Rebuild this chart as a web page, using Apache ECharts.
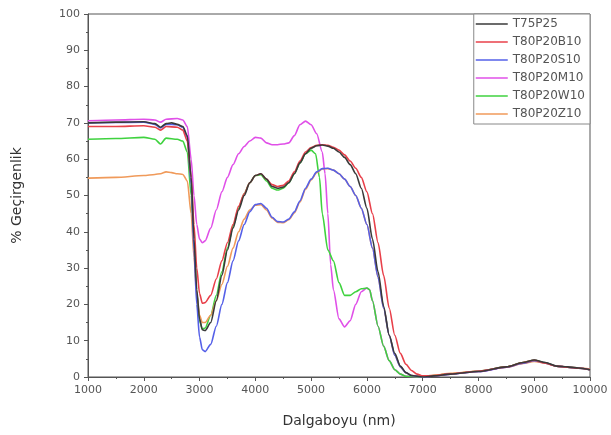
<!DOCTYPE html>
<html>
<head>
<meta charset="utf-8">
<script src="https://cdn.jsdelivr.net/npm/echarts@6/dist/echarts.min.js"></script>
<style>
html,body{margin:0;padding:0;background:#fff;}
#c{width:611px;height:435px;}
</style>
</head>
<body>
<div id="c"></div>
<script>
// Series names
const seriesNames = ['T75P25','T80P20B10','T80P20S10','T80P20M10','T80P20W10','T80P20Z10'];

// [wavelength nm, transmittance %]
const t75p25 = [[1000,70],[1500,70.2],[2000,70.3],[2200,69.8],[2300,68.8],[2400,69.8],[2500,70],[2600,69.6],[2700,69],[2780,66.5],[2850,55],[2900,38],[2950,24],[3000,16],[3050,13],[3100,12.8],[3200,15],[3300,21],[3400,28],[3500,35],[3600,41],[3700,46],[3800,50],[3900,53.5],[4000,55.5],[4100,56],[4200,54.5],[4300,52.5],[4400,52],[4500,52.3],[4600,53.5],[4700,56],[4800,59],[4900,61.5],[5000,63],[5100,63.7],[5200,63.9],[5300,63.6],[5400,63],[5500,62],[5600,60.5],[5700,58.5],[5800,56],[5900,52],[6000,46.5],[6100,38],[6200,29],[6300,19.5],[6400,11.5],[6500,6.5],[6600,3],[6700,1.2],[6800,0.4],[7000,0],[7200,0.3],[7500,0.8],[8000,1.5],[8500,2.8],[8800,4],[9000,4.7],[9200,4],[9400,3],[9600,2.8],[9800,2.5],[10000,2]];
const t80p20b10 = [[1000,69],[1500,69],[2000,69.2],[2200,68.8],[2300,68],[2400,69],[2600,68.8],[2700,68],[2780,65],[2850,55],[2900,42],[2950,30],[3000,23],[3050,20.3],[3100,20.5],[3200,22.5],[3300,27],[3400,32],[3500,37],[3600,42],[3700,47],[3800,50.5],[3900,53.5],[4000,55.5],[4100,56],[4200,54.5],[4300,53],[4400,52.5],[4500,52.8],[4600,54],[4700,56.5],[4800,59.5],[4900,62],[5000,63.2],[5100,63.8],[5200,64],[5300,63.8],[5400,63.3],[5500,62.5],[5600,61.2],[5700,59.5],[5800,57.5],[5900,55],[6000,51],[6100,45],[6200,37],[6300,28],[6400,19],[6500,11.5],[6600,6.5],[6700,3.5],[6800,1.8],[6900,0.8],[7000,0.3],[7200,0.4],[7500,0.9],[8000,1.6],[8500,2.8],[8800,4],[9000,4.6],[9200,3.8],[9400,3],[9600,2.7],[9800,2.4],[10000,2]];
const t80p20s10 = [[1000,70],[1500,70.1],[2000,70.2],[2200,69.6],[2300,68.6],[2400,69.6],[2600,69.5],[2700,68.8],[2780,66],[2850,53],[2900,35],[2950,20],[3000,11],[3050,7.5],[3100,7],[3200,9],[3300,14],[3400,20],[3500,26],[3600,32],[3700,37.5],[3800,42],[3900,45.5],[4000,47.5],[4100,47.8],[4200,46.5],[4300,44],[4400,42.8],[4500,42.7],[4600,43.5],[4700,45.5],[4800,48.5],[4900,52],[5000,54.5],[5100,56.5],[5200,57.4],[5300,57.5],[5400,57],[5500,56],[5600,54.5],[5700,52.5],[5800,50],[5900,46.5],[6000,42],[6100,35.5],[6200,27.5],[6300,19],[6400,11.5],[6500,6],[6600,2.8],[6700,1.2],[6800,0.4],[7000,0],[7200,0.3],[7500,0.8],[8000,1.5],[8500,2.7],[8800,3.8],[9000,4.5],[9200,3.9],[9400,3],[9600,2.7],[9800,2.4],[10000,2]];
const t80p20m10 = [[1000,70.6],[1500,70.8],[2000,71],[2200,70.8],[2300,70.2],[2400,71],[2600,71.2],[2700,70.8],[2780,69],[2850,60],[2900,50],[2950,42],[3000,38],[3050,37],[3100,37.5],[3200,41],[3300,46],[3400,51],[3500,55],[3600,58.5],[3700,61.5],[3800,63.5],[3900,65],[4000,66],[4100,65.8],[4200,64.5],[4300,64],[4400,64],[4500,64.2],[4600,64.5],[4700,66.5],[4800,69.5],[4900,70.5],[5000,69.5],[5100,67],[5200,62],[5250,56],[5300,45],[5350,31],[5400,24],[5500,16],[5600,13.8],[5700,15.5],[5800,20],[5900,23.5],[6000,24.5],[6050,24],[6100,21],[6200,14],[6300,8.5],[6400,4.5],[6500,2],[6600,0.8],[6700,0.2],[7000,0],[7200,0.3],[7500,0.8],[8000,1.5],[8500,2.7],[8800,3.8],[9000,4.5],[9200,3.8],[9400,3],[9600,2.7],[9800,2.4],[10000,2]];
const t80p20w10 = [[1000,65.5],[1500,65.7],[2000,66],[2200,65.5],[2300,64.2],[2400,65.8],[2600,65.5],[2700,65],[2780,62],[2850,50],[2900,36],[2950,23],[3000,15.5],[3050,13.2],[3100,13.5],[3200,17],[3300,22.5],[3400,29],[3500,35.5],[3600,41.5],[3700,46.5],[3800,50.5],[3900,53.5],[4000,55.5],[4100,55.7],[4200,54],[4300,52],[4400,51.5],[4500,52],[4600,53.5],[4700,56],[4800,59],[4900,61.5],[5000,62.5],[5080,61.5],[5150,55],[5200,45],[5300,35],[5400,32],[5500,26],[5600,22.5],[5700,22.5],[5800,23.5],[5900,24.3],[6000,24.5],[6050,24],[6100,21],[6200,14],[6300,8.5],[6400,4.5],[6500,2],[6600,0.8],[6700,0.2],[7000,0],[7200,0.4],[7500,0.9],[8000,1.6],[8500,2.8],[8800,4],[9000,4.6],[9200,3.9],[9400,3],[9600,2.7],[9800,2.4],[10000,2]];
const t80p20z10 = [[1000,54.8],[1500,55],[2000,55.5],[2200,55.8],[2300,56],[2400,56.5],[2500,56.3],[2600,56],[2700,55.8],[2780,54],[2850,45],[2900,33],[2950,23],[3000,17],[3050,15],[3100,15],[3200,17],[3300,21],[3400,25.5],[3500,30.5],[3600,35.5],[3700,40],[3800,43.5],[3900,46],[4000,47.3],[4100,47.5],[4200,46],[4300,43.8],[4400,42.6],[4500,42.5],[4600,43.3],[4700,45.2],[4800,48.2],[4900,51.7],[5000,54.3],[5100,56.3],[5200,57.3],[5300,57.4],[5400,57],[5500,56],[5600,54.5],[5700,52.5],[5800,50],[5900,46.5],[6000,42],[6100,35.5],[6200,27.5],[6300,19],[6400,11.5],[6500,6],[6600,2.8],[6700,1.2],[6800,0.4],[7000,0.2],[7200,0.5],[7500,1],[8000,1.6],[8500,2.7],[8800,3.7],[9000,4.3],[9200,3.8],[9400,3],[9600,2.7],[9800,2.5],[10000,2.2]];

const allData = [t75p25, t80p20b10, t80p20s10, t80p20m10, t80p20w10, t80p20z10];
const colors = ['#3a3a3a','#e8404a','#5560e8','#e050e8','#3fd23f','#f09a5a'];
// draw order: magenta/green under, black on top
const drawOrder = [3,4,5,2,1,0];

const chart = echarts.init(document.getElementById('c'), null, {renderer:'canvas'});
const font = 'DejaVu Sans';
const series = drawOrder.map(i => ({
  name: seriesNames[i],
  type: 'line',
  data: allData[i],
  showSymbol: false,
  symbol: 'none',
  smooth: 0.25,
  smoothMonotone: 'x',
  lineStyle: {color: colors[i], width: 1.6},
  itemStyle: {color: colors[i]},
  z: 2 + drawOrder.indexOf(i),
  animation: false
}));

chart.setOption({
  animation: false,
  backgroundColor: '#fff',
  color: colors,
  grid: {left: 88, right: 21, top: 14, bottom: 58, show: true, borderColor: '#555', borderWidth: 1, backgroundColor: 'transparent'},
  legend: {
    data: seriesNames,
    orient: 'vertical',
    right: 21, top: 14,
    padding: [3, 5, 3, 2],
    itemGap: 4,
    itemWidth: 32, itemHeight: 1.5,
    icon: 'rect',
    borderColor: '#888', borderWidth: 1,
    backgroundColor: '#fff',
    textStyle: {fontFamily: font, fontSize: 12, color: '#555', lineHeight: 14}
  },
  xAxis: {
    type: 'value', min: 1000, max: 10000, interval: 1000,
    name: 'Dalgaboyu (nm)', nameLocation: 'middle', nameGap: 37,
    nameTextStyle: {fontFamily: font, fontSize: 14, color: '#333'},
    axisLine: {onZero: false, lineStyle: {color: '#555', width: 1}},
    axisTick: {inside: false, length: 4, lineStyle: {color: '#555'}},
    minorTick: {show: true, splitNumber: 2, length: 2, lineStyle: {color: '#555'}},
    axisLabel: {fontFamily: font, fontSize: 11, color: '#555', margin: 8, formatter: v => String(v)},
    splitLine: {show: false}
  },
  yAxis: {
    type: 'value', min: 0, max: 100, interval: 10,
    name: '% Geçirgenlik', nameLocation: 'middle', nameGap: 64, nameRotate: 90,
    nameTextStyle: {fontFamily: font, fontSize: 14, color: '#333'},
    axisLine: {show: true, onZero: false, lineStyle: {color: '#555', width: 1}},
    axisTick: {show: true, inside: false, length: 4, lineStyle: {color: '#555'}},
    minorTick: {show: true, splitNumber: 2, length: 2, lineStyle: {color: '#555'}},
    axisLabel: {fontFamily: font, fontSize: 11, color: '#555', margin: 8, formatter: v => String(v)},
    splitLine: {show: false}
  },
  series: series
});
</script>
</body>
</html>
